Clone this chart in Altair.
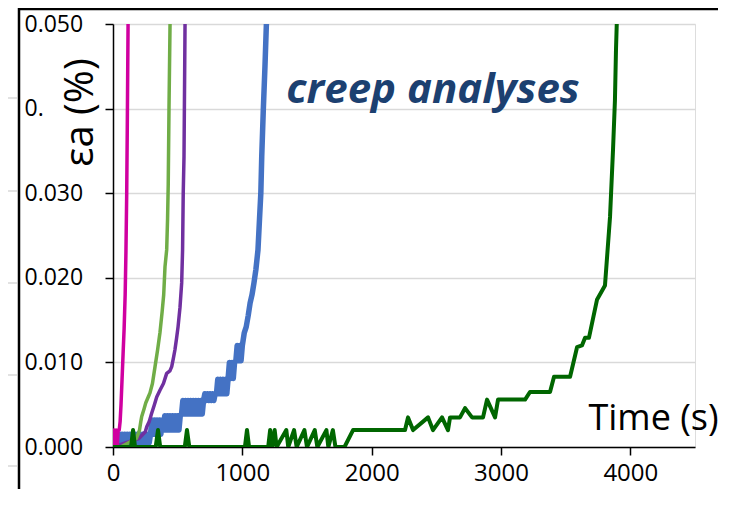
import altair as alt
import pandas as pd

# ---- data ----
mag_t = [0, 8, 16, 24, 32, 40, 48, 55, 62, 70, 78, 86, 94, 100, 106, 110, 114, 118, 124]
mag_y = [0, 0.002, 0, 0.002, 0, 0.002, 0.002, 0.003, 0.005, 0.008, 0.011, 0.014, 0.018, 0.023, 0.030, 0.037, 0.045, 0.053, 0.060]

lgr_t = [0, 60, 120, 180, 205, 215, 222, 240, 253, 275, 286, 305, 325, 345, 363, 380, 392, 402, 415, 422, 427, 433, 441, 447]
lgr_y = [0, 0, 0.0005, 0.001, 0.002, 0.003, 0.0036, 0.0045, 0.0052, 0.006, 0.0064, 0.0075, 0.0095, 0.0115, 0.0135, 0.016, 0.018, 0.0213, 0.0233, 0.027, 0.031, 0.040, 0.050, 0.056]

pur_t = [0, 100, 200, 250, 261, 280, 299, 320, 338, 363, 390, 415, 440, 454, 467, 479, 491, 503, 518, 531, 538, 543, 549, 557, 562]
pur_y = [0, 0.0005, 0.001, 0.0018, 0.0024, 0.003, 0.004, 0.005, 0.0059, 0.0067, 0.0075, 0.0087, 0.009, 0.0095, 0.0105, 0.0115, 0.0128, 0.0142, 0.0165, 0.0194, 0.0233, 0.030, 0.0343, 0.050, 0.056]

# blue readings flicker between two resolution levels on each plateau
blu_t = [0, 10, 20, 30, 40, 50, 60, 70, 80, 90, 100, 110, 120, 130, 140, 150, 160, 170, 180, 190,
         200, 210, 220, 230, 240, 250, 260, 270, 280,
         290, 300, 310, 320, 330, 340, 350, 360, 370, 380,
         390, 400, 410, 420, 430, 440, 450, 460, 470, 480, 490, 500, 510, 520,
         530, 540, 550, 560, 570, 580, 590, 600, 610, 620, 630, 640, 650, 660, 670, 680, 690,
         700, 710, 720, 730, 740, 750, 760, 770, 780, 790,
         800, 810, 820, 830, 840, 850, 860, 870, 880,
         890, 900, 910, 920, 930, 940,
         950, 960, 970, 980, 990, 1000,
         1015, 1030, 1045, 1060, 1075, 1090, 1105, 1121, 1133, 1143, 1150, 1162, 1175, 1186, 1192]
blu_y = [0.0005, 0.0015, 0.0005, 0.0015, 0.0005, 0.0015, 0.0005, 0.0015, 0.0005, 0.0015,
         0.0005, 0.0015, 0.0005, 0.0015, 0.0005, 0.0015, 0.0005, 0.0015, 0.0005, 0.0015,
         0.0005, 0.0015, 0.0005, 0.0015, 0.0005, 0.0015, 0.0005, 0.0015, 0.0005,
         0.0015, 0.0032, 0.0015, 0.0032, 0.0015, 0.0032, 0.0015, 0.0032, 0.0015, 0.0032,
         0.002, 0.0037, 0.002, 0.0037, 0.002, 0.0037, 0.002, 0.0037, 0.002, 0.0037, 0.002, 0.0037, 0.002, 0.0037,
         0.0039, 0.0055, 0.0039, 0.0055, 0.0039, 0.0055, 0.0039, 0.0055, 0.0039, 0.0055, 0.0039, 0.0055,
         0.0039, 0.0055, 0.0039, 0.0055, 0.0039,
         0.0055, 0.0063, 0.0055, 0.0063, 0.0055, 0.0063, 0.0055, 0.0063, 0.0055, 0.0063,
         0.0063, 0.0080, 0.0063, 0.0080, 0.0063, 0.0080, 0.0063, 0.0080, 0.0063,
         0.0081, 0.0100, 0.0081, 0.0100, 0.0081, 0.0100,
         0.0102, 0.0120, 0.0102, 0.0120, 0.0102, 0.0120,
         0.0135, 0.0142, 0.0155, 0.017, 0.018, 0.0194, 0.021, 0.0233, 0.027, 0.030, 0.0343, 0.0398, 0.045, 0.050, 0.055]

dgr_t = [0, 140, 155, 170, 330, 348, 365, 555, 572, 590, 1020, 1036, 1052, 1200, 1215, 1230, 1250, 1265,
         1340, 1355, 1400, 1420, 1480, 1500, 1560, 1580, 1650, 1665, 1700, 1720, 1790, 1856,
         2258, 2281, 2320, 2436, 2474, 2544, 2590, 2606, 2683, 2722, 2776, 2861, 2892, 2954, 2977,
         3186, 3224, 3379, 3410, 3534, 3588, 3626, 3650, 3680, 3742, 3804, 3843, 3866, 3881, 3889, 3895, 3900]
dgr_y = [0, 0, 0.002, 0, 0, 0.002, 0, 0, 0.002, 0, 0, 0.002, 0, 0, 0.002, 0, 0.002, 0,
         0.002, 0, 0.002, 0, 0.002, 0, 0.002, 0, 0.002, 0, 0.002, 0, 0, 0.002,
         0.002, 0.0035, 0.002, 0.0035, 0.002, 0.0035, 0.002, 0.0035, 0.0035, 0.0046, 0.0035, 0.0035, 0.0056, 0.0035, 0.0056,
         0.0056, 0.0065, 0.0065, 0.0083, 0.0083, 0.0118, 0.012, 0.0129, 0.0129, 0.0174, 0.0191, 0.0272, 0.0351, 0.041, 0.0469, 0.050, 0.056]

x_ticks = [0, 1000, 2000, 3000, 4000]
y_ticks = [0, 0.01, 0.02, 0.03, 0.04, 0.05]

FONT = "Open Sans"

def frame(t, y):
    return pd.DataFrame({"t": t, "y": y})

x_enc = alt.X("t:Q", scale=alt.Scale(domain=[0, 4500], nice=False, zero=False),
              axis=alt.Axis(values=x_ticks, format="d", grid=False, domainColor="black", domainWidth=1.5,
                            tickColor="black", tickSize=8, tickWidth=1.5, labelFontSize=24,
                            labelColor="black", labelPadding=6, labelFont=FONT, labelFlush=False,
                            title="Time (s)", titleFontSize=36, titleFontWeight="normal",
                            titleFont=FONT, titleColor="black", titleX=540, titleY=-29,
                            titleAlign="center", titleBaseline="middle"))
y_enc = alt.Y("y:Q", scale=alt.Scale(domain=[0, 0.05], nice=False),
              axis=alt.Axis(values=y_ticks, format=".3f",
                            labelExpr="datum.value > 0.0395 && datum.value < 0.0405 ? '0.' : format(datum.value, '.3f')",
                            labelAlign="left", labelPadding=81, labelFlush=False,
                            grid=True, gridColor="#D9D9D9", gridWidth=1.5,
                            domainColor="black", domainWidth=1.5, tickColor="black", tickSize=8,
                            tickWidth=1.5, labelFontSize=23, labelColor="black",
                            labelFont=FONT,
                            title="εa (%)", titleAngle=270, titleX=-33, titleY=88,
                            titleAlign="center", titleBaseline="middle", titleFontSize=40,
                            titleFontWeight="normal", titleFont=FONT, titleColor="black"))

def line(t, y, color, w):
    return alt.Chart(frame(t, y)).mark_line(color=color, strokeWidth=w, clip=True,
                                            strokeJoin="round").encode(x=x_enc, y=y_enc)

one = alt.Data(values=[{"a": 1}])
deco = []
# outer frame of the slide panel (left and top edges)
deco.append(alt.Chart(one).mark_rule(color="black", strokeWidth=2.5).encode(
    x=alt.value(-94), y=alt.value(-16), y2=alt.value(465)))
deco.append(alt.Chart(one).mark_rule(color="black", strokeWidth=2.5).encode(
    x=alt.value(-95), x2=alt.value(605), y=alt.value(-15)))
for yy in [74, 167, 259, 351, 442]:
    deco.append(alt.Chart(one).mark_rule(color="#D9D9D9", strokeWidth=1.5).encode(
        x=alt.value(-106), x2=alt.value(-96), y=alt.value(yy)))

chart = alt.layer(
    line(blu_t, blu_y, "#4472C4", 5.5),
    line(pur_t, pur_y, "#7030A0", 3.5),
    line(lgr_t, lgr_y, "#70AD47", 3.5),
    line(mag_t, mag_y, "#D000A0", 3.5),
    line(dgr_t, dgr_y, "#006600", 4),
    *deco
).properties(
    width=582, height=423,
    title=alt.TitleParams("creep analyses", anchor="middle", frame="group", offset=0,
                          dx=29, dy=138, baseline="alphabetic", fontSize=42, fontStyle="italic",
                          fontWeight="bold", color="#1C4070", font=FONT),
    autosize=alt.AutoSizeParams(type="none"),
    padding={"left": 105, "top": 16, "right": 27, "bottom": 42},
).configure_view(stroke=None).configure(background="white")

chart.save("out.html", embed_options={"renderer": "svg", "actions": False})
